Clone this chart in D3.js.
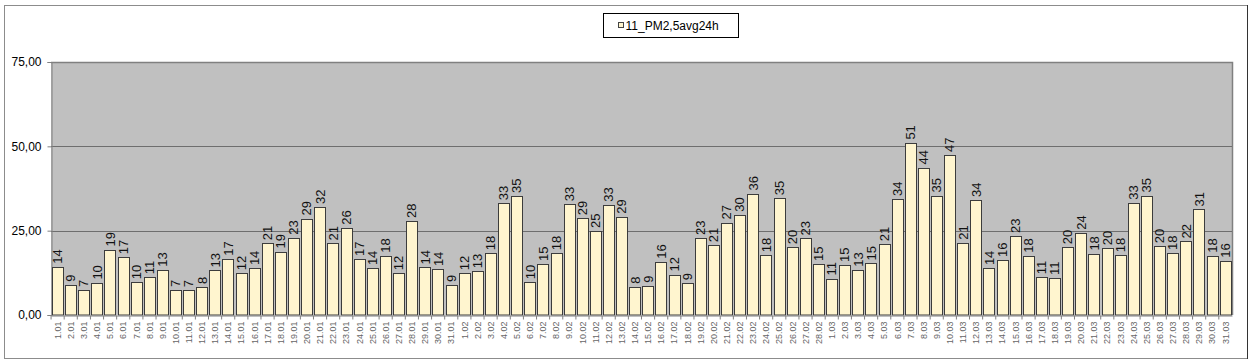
<!DOCTYPE html>
<html>
<head>
<meta charset="utf-8">
<script src="https://cdn.jsdelivr.net/npm/d3@7"></script>
<style>
  body { margin: 0; background: #fff; }
  text { font-family: Arial, "Liberation Sans", sans-serif; }
</style>
</head>
<body>
<div id="root"></div>
<script>
const janDays = ["1.01","2.01","3.01","4.01","5.01","6.01","7.01","8.01","9.01","10.01","11.01","12.01","13.01","14.01","15.01","16.01","17.01","18.01","19.01","20.01","21.01","22.01","23.01","24.01","25.01","26.01","27.01","28.01","29.01","30.01","31.01"];
const febDays = ["1.02","2.02","3.02","4.02","5.02","6.02","7.02","8.02","9.02","10.02","11.02","12.02","13.02","14.02","15.02","16.02","17.02","18.02","19.02","20.02","21.02","22.02","23.02","24.02","25.02","26.02","27.02","28.02"];
const marDays = ["1.03","2.03","3.03","4.03","5.03","6.03","7.03","8.03","9.03","10.03","11.03","12.03","13.03","14.03","15.03","16.03","17.03","18.03","19.03","20.03","21.03","22.03","23.03","24.03","25.03","26.03","27.03","28.03","29.03","30.03","31.03"];

const janValues = [14.3,9.0,7.4,9.6,19.4,17.1,9.7,11.2,13.4,7.4,7.3,8.3,13.2,16.7,12.4,13.9,21.3,18.8,22.9,28.6,32.0,21.2,25.9,16.6,13.9,17.6,12.4,27.9,14.1,13.6,8.9];
const febValues = [12.4,13.0,18.3,33.1,35.3,9.7,15.1,18.3,32.8,28.7,24.9,32.7,29.1,8.4,8.7,15.8,12.0,9.4,22.8,20.7,27.4,29.7,36.0,17.7,34.6,20.1,22.7,15.1];
const marValues = [10.8,14.8,13.4,15.3,21.0,34.4,51.1,43.7,35.4,47.4,21.4,34.1,13.9,16.3,23.4,17.6,11.2,11.0,20.1,24.4,18.2,19.8,17.7,33.3,35.4,20.4,18.4,21.8,31.3,17.6,16.1];

const yTicks = [0, 25, 50, 75];
const seriesName = "11_PM2,5avg24h";

const dates = [...janDays, ...febDays, ...marDays];
const values = [...janValues, ...febValues, ...marValues];
const data = dates.map((d, i) => ({ date: d, value: values[i] }));

const width = 1253;
const height = 362;
const plot = { left: 51, right: 1232, top: 62, bottom: 315 };

const svg = d3.select("#root")
  .append("svg")
    .attr("width", width)
    .attr("height", height);

// outer frame
svg.append("rect")
  .attr("x", 4.5).attr("y", 5.5)
  .attr("width", 1243).attr("height", 353)
  .attr("fill", "#fff")
  .attr("stroke", "#8c8c8c");
svg.append("line")
  .attr("x1", 1247.5).attr("x2", 1247.5)
  .attr("y1", 5).attr("y2", 359)
  .attr("stroke", "#333");

const x = d3.scaleBand()
  .domain(dates)
  .range([plot.left, plot.right])
  .paddingInner(0.13)
  .paddingOuter(0.07);

const y = d3.scaleLinear()
  .domain([0, 75])
  .range([plot.bottom, plot.top]);

// plot area
svg.append("rect")
  .attr("x", plot.left).attr("y", plot.top)
  .attr("width", plot.right - plot.left).attr("height", plot.bottom - plot.top)
  .attr("fill", "#c0c0c0");

svg.append("path")
  .attr("d", `M${plot.left},${plot.top + 0.5}H${plot.right + 0.5}V${plot.bottom}`)
  .attr("fill", "none")
  .attr("stroke", "#808080")
  .attr("stroke-width", 1.5);

// gridlines
svg.append("g")
  .selectAll("line")
  .data(yTicks.filter(t => t > 0 && t < 75))
  .join("line")
    .attr("x1", plot.left).attr("x2", plot.right)
    .attr("y1", d => Math.round(y(d)) + 0.5)
    .attr("y2", d => Math.round(y(d)) + 0.5)
    .attr("stroke", "#6e6e6e")
    .attr("stroke-width", 1.2);

// y axis
const yAxis = svg.append("g")
  .attr("transform", `translate(${plot.left + 0.5},0)`)
  .call(d3.axisLeft(y).tickValues(yTicks).tickSize(4).tickFormat(d => d3.format(".2f")(d).replace(".", ",")));
yAxis.select(".domain").attr("stroke", "#808080");
yAxis.selectAll(".tick line").attr("stroke", "#808080");
yAxis.selectAll(".tick text")
  .attr("x", -10)
  .attr("fill", "#000")
  .style("font-size", "12px");

// bars
svg.append("g")
  .selectAll("rect")
  .data(data)
  .join("rect")
    .attr("x", d => Math.round(x(d.date)) + 0.5)
    .attr("y", d => Math.round(y(d.value)) + 0.5)
    .attr("width", Math.round(x.bandwidth()))
    .attr("height", d => plot.bottom - Math.round(y(d.value)) - 0.5)
    .attr("fill", "#fff5cf")
    .attr("stroke", "#3c3c3c")
    .attr("stroke-width", 1);

// x axis
const xAxis = svg.append("g")
  .attr("transform", `translate(0,${plot.bottom + 0.5})`)
  .call(d3.axisBottom(x).tickSize(4).tickSizeOuter(0));
xAxis.select(".domain").attr("stroke", "#808080");
xAxis.selectAll(".tick line")
  .attr("stroke", "#808080")
  .attr("transform", d => `translate(${-x.step() / 2},0)`);
xAxis.selectAll(".tick text")
  .attr("transform", "rotate(-90)")
  .attr("x", -6)
  .attr("y", 0)
  .attr("dy", "0.35em")
  .attr("text-anchor", "end")
  .attr("fill", "#666")
  .style("font-size", "9px");

// value labels
svg.append("g")
  .selectAll("text")
  .data(data)
  .join("text")
    .attr("transform", d => `translate(${x(d.date) + x.bandwidth() / 2},${y(d.value) - 3}) rotate(-90)`)
    .attr("dy", "0.35em")
    .attr("text-anchor", "start")
    .attr("fill", "#111")
    .style("font-size", "13px")
    .text(d => Math.round(d.value));

// legend
const legend = svg.append("g").attr("transform", "translate(603.5,13.5)");
legend.append("rect")
  .attr("width", 135).attr("height", 24)
  .attr("fill", "#fff")
  .attr("stroke", "#000");
legend.append("rect")
  .attr("x", 15).attr("y", 9)
  .attr("width", 5).attr("height", 5)
  .attr("fill", "#fff5cf")
  .attr("stroke", "#444");
legend.append("text")
  .attr("x", 22).attr("y", 12)
  .attr("dy", "0.35em")
  .style("font-size", "12px")
  .text(seriesName);
</script>
</body>
</html>
